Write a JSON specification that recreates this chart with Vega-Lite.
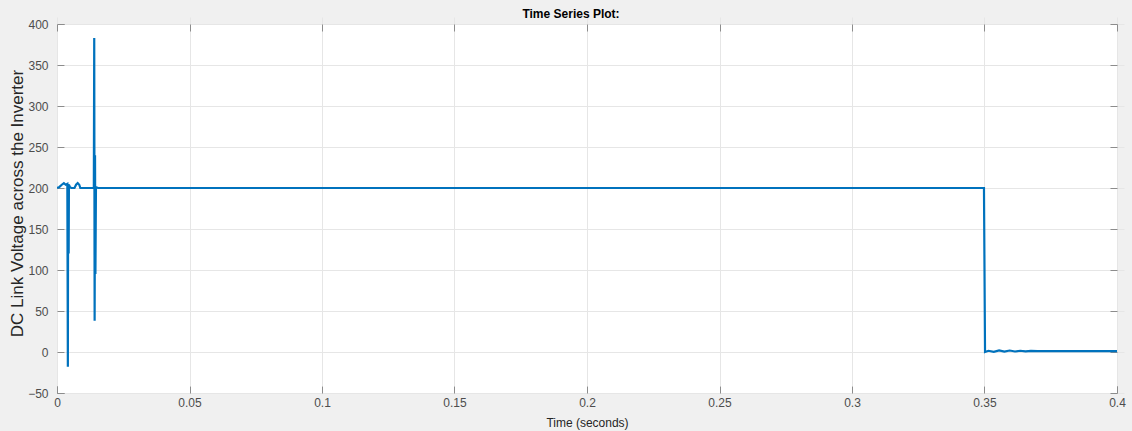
{
  "$schema": "https://vega.github.io/schema/vega-lite/v6.json",
  "autosize": {"type": "none"},
  "width": 1060,
  "height": 369,
  "padding": {"left": 57, "top": 24, "right": 15, "bottom": 38},
  "background": "#f0f0f0",
  "title": {
    "text": "Time Series Plot:",
    "font": "Liberation Sans",
    "fontSize": 12,
    "fontWeight": "bold",
    "color": "#000000",
    "anchor": "middle",
    "dx": -16,
    "dy": 8,
    "offset": 5
  },
  "config": {
    "view": {"fill": "#ffffff", "stroke": "#8c8c8c", "strokeWidth": 1},
    "axis": {
      "labelFont": "Liberation Sans",
      "labelFontSize": 12,
      "labelColor": "#4d4d4d",
      "titleFont": "Liberation Sans",
      "titleFontWeight": "normal",
      "titleColor": "#262626",
      "gridColor": "#e6e6e6",
      "gridWidth": 1,
      "domain": false,
      "tickColor": "#8c8c8c",
      "tickWidth": 1,
      "tickSize": 7,
      "offset": -7
    }
  },
  "data": {
    "values": [
      {"t": 0, "v": 200},
      {"t": 0.0008, "v": 201},
      {"t": 0.0018, "v": 204},
      {"t": 0.0026, "v": 206},
      {"t": 0.0033, "v": 204},
      {"t": 0.0039, "v": 205},
      {"t": 0.0041, "v": -18},
      {"t": 0.0042, "v": 205},
      {"t": 0.0044, "v": 120},
      {"t": 0.0045, "v": 204},
      {"t": 0.0049, "v": 201},
      {"t": 0.0054, "v": 200},
      {"t": 0.0066, "v": 200},
      {"t": 0.0072, "v": 204},
      {"t": 0.0078, "v": 206},
      {"t": 0.0084, "v": 204},
      {"t": 0.0088, "v": 200},
      {"t": 0.0139, "v": 200},
      {"t": 0.01405, "v": 383},
      {"t": 0.0142, "v": 38},
      {"t": 0.01435, "v": 240},
      {"t": 0.0145, "v": 95},
      {"t": 0.0147, "v": 201},
      {"t": 0.0155, "v": 200},
      {"t": 0.3498, "v": 200},
      {"t": 0.3502, "v": 0},
      {"t": 0.3515, "v": 1.5},
      {"t": 0.3535, "v": 0.3},
      {"t": 0.3555, "v": 2},
      {"t": 0.3575, "v": 0.5},
      {"t": 0.3595, "v": 1.8},
      {"t": 0.3615, "v": 0.6},
      {"t": 0.3635, "v": 1.5},
      {"t": 0.3655, "v": 0.8},
      {"t": 0.3675, "v": 1.3},
      {"t": 0.37, "v": 1},
      {"t": 0.4, "v": 1}
    ]
  },
  "resolve": {"axis": {"x": "independent", "y": "independent"}},
  "layer": [
    {
      "mark": {"type": "line", "color": "#0072bd", "strokeWidth": 2.2, "interpolate": "linear", "clip": true},
      "encoding": {
        "x": {
          "field": "t",
          "type": "quantitative",
          "scale": {"domain": [0, 0.4], "nice": false, "zero": false},
          "axis": {
            "title": "Time (seconds)",
            "titleFontSize": 12,
            "titlePadding": 9,
            "values": [0, 0.05, 0.1, 0.15, 0.2, 0.25, 0.3, 0.35, 0.4],
            "labelPadding": 4,
            "labelFlush": false,
            "labelExpr": "datum.value === 0 ? '0' : format(datum.value, '.2~f')"
          }
        },
        "y": {
          "field": "v",
          "type": "quantitative",
          "scale": {"domain": [-50, 400], "nice": false, "zero": false},
          "axis": {
            "title": "DC Link Voltage across the Inverter",
            "titleFontSize": 17,
            "titleX": -47,
            "titleY": 179,
            "titleAlign": "center",
            "titleBaseline": "middle",
            "values": [-50, 0, 50, 100, 150, 200, 250, 300, 350, 400],
            "labelPadding": 9,
            "labelFlush": false
          }
        }
      }
    },
    {
      "mark": {"type": "line", "strokeOpacity": 0},
      "encoding": {
        "x": {
          "field": "t",
          "type": "quantitative",
          "axis": {
            "orient": "top",
            "title": null,
            "labels": false,
            "grid": false,
            "values": [0, 0.05, 0.1, 0.15, 0.2, 0.25, 0.3, 0.35, 0.4]
          }
        },
        "y": {
          "field": "v",
          "type": "quantitative",
          "axis": {
            "orient": "right",
            "title": null,
            "labels": false,
            "grid": false,
            "values": [-50, 0, 50, 100, 150, 200, 250, 300, 350, 400]
          }
        }
      }
    }
  ]
}
